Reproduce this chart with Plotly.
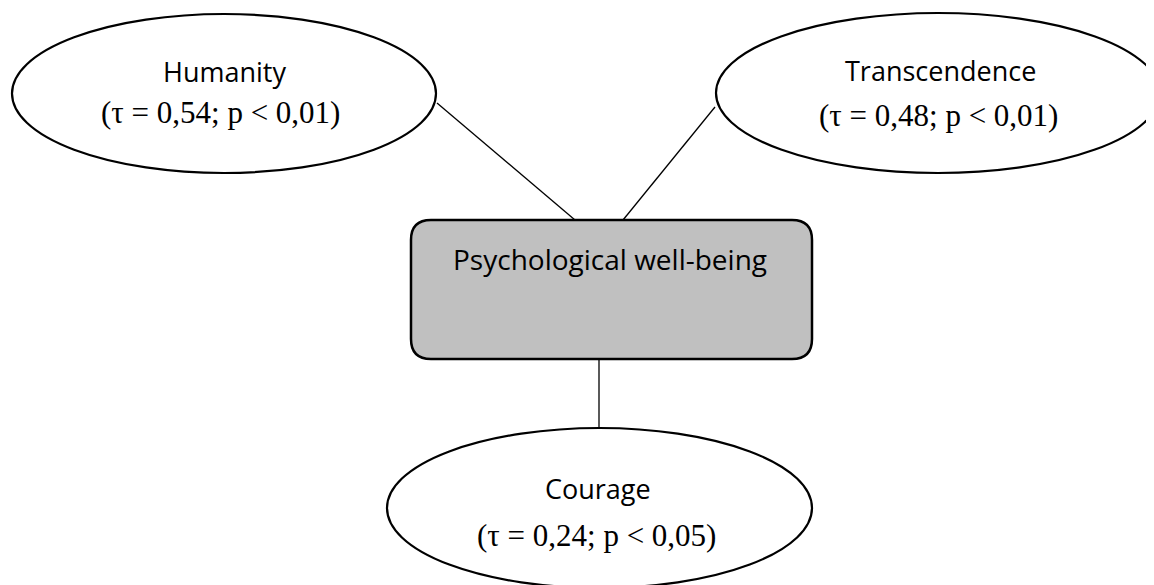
import plotly.graph_objects as go

# ---- data ----
outcome = "Psychological well-being"
strengths = ["Humanity", "Transcendence", "Courage"]
tau_values = ["0,54", "0,48", "0,24"]
p_thresholds = ["0,01", "0,01", "0,05"]

# ---- layout geometry (pixels, y downward) ----
W, H = 1154, 585
OFF = 8  # page body margin compensation
ellipses = {
    "Humanity": dict(x0=12, y0=14, x1=436, y1=173, t1=(224, 71), t2=(220, 112)),
    "Transcendence": dict(x0=716, y0=13, x1=1160, y1=173, t1=(940, 70), t2=(938, 115)),
    "Courage": dict(x0=387, y0=428, x1=812, y1=588, t1=(598, 488), t2=(596, 535)),
}
links = {
    "Humanity": ((437, 103), (575, 220)),
    "Transcendence": ((715, 107), (623, 220)),
    "Courage": ((599, 359), (599, 428)),
}
box = dict(x0=411, y0=220, x1=812, y1=359, r=20)

fig = go.Figure()
fig.add_trace(go.Scatter(x=[OFF, W + OFF], y=[OFF, H + OFF], mode="markers",
                         marker=dict(opacity=0), hoverinfo="skip", showlegend=False))

shapes = []
# connecting lines
for name in strengths:
    (xa, ya), (xb, yb) = links[name]
    shapes.append(dict(type="line", x0=xa, y0=ya, x1=xb, y1=yb,
                       line=dict(color="black", width=1.3), layer="below"))

# rounded box
x0, y0, x1, y1, r = box["x0"], box["y0"], box["x1"], box["y1"], box["r"]
path = (f"M {x0+r},{y0} L {x1-r},{y0} Q {x1},{y0} {x1},{y0+r} "
        f"L {x1},{y1-r} Q {x1},{y1} {x1-r},{y1} L {x0+r},{y1} "
        f"Q {x0},{y1} {x0},{y1-r} L {x0},{y0+r} Q {x0},{y0} {x0+r},{y0} Z")
shapes.append(dict(type="path", path=path, fillcolor="#c0c0c0",
                   line=dict(color="black", width=2.5)))

# ellipses
for name in strengths:
    e = ellipses[name]
    shapes.append(dict(type="circle", x0=e["x0"], y0=e["y0"], x1=e["x1"], y1=e["y1"],
                       fillcolor="white", line=dict(color="black", width=2.2)))

annotations = []
sans = "Open Sans"
serif = "Liberation Serif"
for name, tau, p in zip(strengths, tau_values, p_thresholds):
    e = ellipses[name]
    annotations.append(dict(x=e["t1"][0], y=e["t1"][1], text=name, showarrow=False,
                            xanchor="center", yanchor="middle",
                            font=dict(family=sans, size=27, color="black")))
    annotations.append(dict(x=e["t2"][0], y=e["t2"][1], text=f"(τ = {tau}; p < {p})",
                            showarrow=False, xanchor="center", yanchor="middle",
                            font=dict(family=serif, size=31, color="black")))
annotations.append(dict(x=610, y=259, text=outcome, showarrow=False,
                        xanchor="center", yanchor="middle",
                        font=dict(family=sans, size=28, color="black")))

fig.update_layout(
    width=W, height=H,
    margin=dict(l=0, r=0, t=0, b=0),
    paper_bgcolor="white", plot_bgcolor="white",
    xaxis=dict(range=[OFF, W + OFF], visible=False, fixedrange=True),
    yaxis=dict(range=[H + OFF, OFF], visible=False, fixedrange=True),
    shapes=shapes, annotations=annotations, showlegend=False,
)
fig.write_html("out.html")
